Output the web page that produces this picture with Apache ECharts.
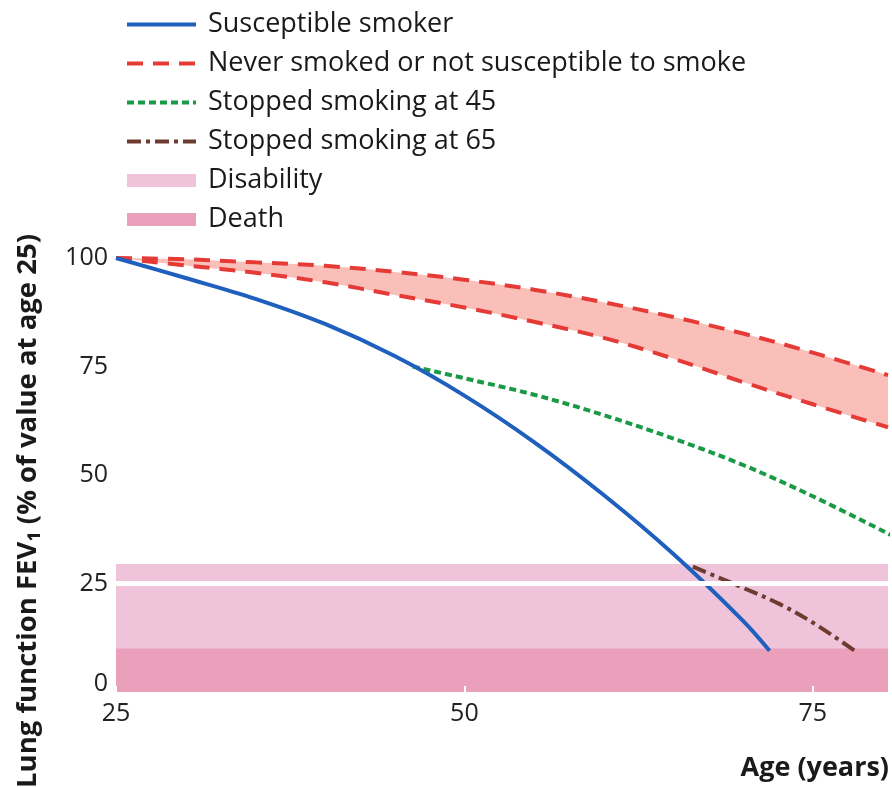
<!DOCTYPE html>
<html>
<head>
<meta charset="utf-8">
<script src="https://cdn.jsdelivr.net/npm/echarts@6/dist/echarts.min.js"></script>
<style>
html,body{margin:0;padding:0;background:#fff;}
#chart{width:892px;height:787px;}
</style>
</head>
<body>
<div id="chart"></div>
<script>
// ---- data ----
const neverAges  = [25, 30, 35, 40, 45, 50, 55, 60, 65, 70, 75, 80.4];
const neverUpper = [100, 99.7, 99, 98.2, 96.8, 95, 92.7, 89.8, 86.4, 82.6, 78.2, 73];
const neverLower = [100, 98.3, 96.6, 94.4, 91.5, 88.6, 85.3, 81.6, 76.8, 71.4, 66.3, 61];

const smokerAges   = [25, 30, 35, 40, 45, 50, 55, 60, 65, 70, 71.9];
const smokerValues = [100, 95.4, 90.6, 84.8, 77.4, 68.3, 57.6, 45.4, 31.8, 16.4, 9.5];

const stop45Ages   = [46.3, 50, 55, 60, 65, 70, 75, 80.6];
const stop45Values = [75, 72.3, 68.5, 63.8, 58.4, 52.3, 45.1, 36.2];

const stop65Ages   = [66.4, 68, 70, 72.6, 75, 78.2];
const stop65Values = [28.9, 26.7, 24.0, 20.3, 16.0, 9.1];

const disabilityTop = 29.5;
const deathTop = 10;
const ageRange = [25, 80.4];

const xTicks = [25, 50, 75];
const yTicks = [0, 25, 50, 75, 100];

// ---- helpers ----
const pairs = (xs, ys) => xs.map((x, i) => [x, ys[i]]);
const flat = (v) => ageRange.map(a => [a, v]);

const C = {
  blue: '#1f5fbd', red: '#e53b37', green: '#1a9946', brown: '#6e3b30',
  fill: '#fbbfba', disab: '#efc4da', death: '#ea9fba'
};
const FONT = '"Open Sans", "Noto Sans", sans-serif';
const SMOOTH = 0.35;

const chart = echarts.init(document.getElementById('chart'));
chart.setOption({
  animation: false,
  backgroundColor: '#fff',
  grid: { left: 116, right: 4, top: 258, bottom: 95, containLabel: false },
  legend: {
    orient: 'vertical', left: 120, top: 6,
    itemWidth: 69, itemHeight: 13, itemGap: 12,
    itemStyle: { opacity: 0 },
    lineStyle: { width: 4 },
    textStyle: { fontFamily: FONT, fontSize: 27, color: '#1a1a1a', padding: [0, 0, 0, 7] },
    selectedMode: false,
    data: [
      { name: 'Susceptible smoker' },
      { name: 'Never smoked or not susceptible to smoke' },
      { name: 'Stopped smoking at 45' },
      { name: 'Stopped smoking at 65' },
      { name: 'Disability', icon: 'rect', itemStyle: { color: C.disab, opacity: 1 } },
      { name: 'Death', icon: 'rect', itemStyle: { color: C.death, opacity: 1 } }
    ]
  },
  xAxis: {
    type: 'value', min: ageRange[0], max: ageRange[1], interval: 25, z: 5,
    axisLine: { show: false },
    axisTick: { show: true, inside: true, length: 6, customValues: xTicks,
                lineStyle: { color: '#fff', width: 2 } },
    splitLine: { show: false },
    axisLabel: { customValues: xTicks, fontFamily: FONT, fontSize: 25, color: '#222', margin: 9 }
  },
  yAxis: {
    type: 'value', min: 0, max: 100, interval: 25,
    axisLine: { show: false }, axisTick: { show: false }, splitLine: { show: false },
    axisLabel: {
      customValues: yTicks, fontFamily: FONT, fontSize: 25, color: '#222', margin: 8,
      formatter: v => v === 0 ? '{z|0}' : String(v),
      rich: { z: { fontFamily: FONT, fontSize: 25, color: '#222', padding: [0, 0, 16, 0] } }
    }
  },
  graphic: [
    { type: 'text', x: 28, y: 511, rotation: Math.PI / 2,
      style: { text: 'Lung function FEV\u2081 (% of value at age 25)', fontFamily: FONT,
               fontWeight: 'bold', fontSize: 27.5, fill: '#1a1a1a', textAlign: 'center', textVerticalAlign: 'middle' } },
    { type: 'text', x: 889, y: 768,
      style: { text: 'Age (years)', fontFamily: FONT, fontWeight: 'bold', fontSize: 27,
               fill: '#1a1a1a', textAlign: 'right', textVerticalAlign: 'middle' } }
  ],
  series: [
    // band fill between the two "never smoked" lines: fill under upper, then white under lower
    { name: 'bandUpperFill', type: 'line', z: 1, symbol: 'none', smooth: SMOOTH, silent: true,
      data: pairs(neverAges, neverUpper), lineStyle: { width: 0 },
      areaStyle: { color: C.fill, opacity: 1 } },
    { name: 'bandLowerMask', type: 'line', z: 1, symbol: 'none', smooth: SMOOTH, silent: true,
      data: pairs(neverAges, neverLower), lineStyle: { width: 0 },
      areaStyle: { color: '#ffffff', opacity: 1 } },
    { name: 'Disability', type: 'line', z: 2, symbol: 'none', silent: true,
      data: flat(disabilityTop), color: C.disab,
      lineStyle: { width: 0, color: C.disab }, itemStyle: { color: C.disab },
      areaStyle: { color: C.disab, opacity: 1 },
      markLine: { silent: true, symbol: 'none', label: { show: false },
                  lineStyle: { color: '#fff', width: 5, type: 'solid' },
                  data: [{ yAxis: 25 }] } },
    { name: 'Death', type: 'line', z: 2, symbol: 'none', silent: true,
      data: flat(deathTop), color: C.death,
      lineStyle: { width: 0, color: C.death }, itemStyle: { color: C.death },
      areaStyle: { color: C.death, opacity: 1 } },
    { name: 'Susceptible smoker', type: 'line', z: 4, symbol: 'none', smooth: SMOOTH,
      data: pairs(smokerAges, smokerValues), color: C.blue,
      lineStyle: { color: C.blue, width: 4 } },
    { name: 'Never smoked or not susceptible to smoke', type: 'line', z: 3, symbol: 'none', smooth: SMOOTH,
      data: pairs(neverAges, neverUpper), color: C.red,
      lineStyle: { color: C.red, width: 4, type: [16, 10] } },
    { name: 'Never smoked or not susceptible to smoke', type: 'line', z: 3, symbol: 'none', smooth: SMOOTH,
      data: pairs(neverAges, neverLower), color: C.red,
      lineStyle: { color: C.red, width: 4, type: [16, 10] } },
    { name: 'Stopped smoking at 45', type: 'line', z: 3, symbol: 'none', smooth: SMOOTH,
      data: pairs(stop45Ages, stop45Values), color: C.green,
      lineStyle: { color: C.green, width: 4, type: [7, 4] } },
    { name: 'Stopped smoking at 65', type: 'line', z: 3, symbol: 'none', smooth: SMOOTH,
      data: pairs(stop65Ages, stop65Values), color: C.brown,
      lineStyle: { color: C.brown, width: 4, type: [14, 5, 4, 5] } }
  ]
});
</script>
</body>
</html>
